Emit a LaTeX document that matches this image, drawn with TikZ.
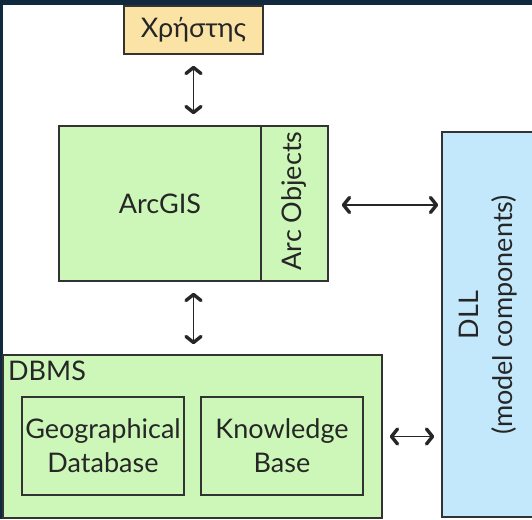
\documentclass[tikz,border=0pt]{standalone}
\usepackage{fontspec}
\setmainfont{Lato}
\usetikzlibrary{arrows.meta,calc}
\definecolor{frame}{HTML}{0F2A3F}
\definecolor{tan}{HTML}{FBE3A6}
\definecolor{lgreen}{HTML}{CDF7B9}
\definecolor{lblue}{HTML}{C3E8FB}
\definecolor{edge}{HTML}{333333}
\definecolor{ink}{HTML}{262626}
\tikzset{
  box/.style={draw=edge, line width=1.6pt, inner sep=0pt, align=center, text=ink, font=\fontsize{27}{34}\selectfont},
  tip/.tip={Straight Barb[length=6pt,width=15pt,line width=3.4pt,round]},
  arr/.style={draw=ink, line width=1.8pt, tip-tip},
  lbl/.style={inner sep=0pt, text=ink, font=\fontsize{27}{34}\selectfont}
}
\begin{document}
\begin{tikzpicture}[x=1pt,y=-1pt]
\useasboundingbox (0,0) rectangle (532,519);
\fill[frame] (0,0) rectangle (532,519);
\fill[white] (3,5) rectangle (532,519);
\clip (0,0) rectangle (532,519);
\node[box, fill=tan, minimum width=139pt, minimum height=48pt] (user) at (193.5,30) {Χρήστης};
\node[box, fill=lgreen, minimum width=202pt, minimum height=155pt] (arcgis) at (160,203.5) {ArcGIS};
\node[box, fill=lgreen, minimum width=67pt, minimum height=155pt] (ao) at (294.5,203.5) {};
\node[lbl, rotate=90] (aotext) at (294.5,201) {Arc Objects};
\node[box, fill=lblue, minimum width=98pt, minimum height=385pt] (dll) at (491,324.5) {};
\node[lbl, rotate=90, align=center] (dlltext) at (488,315) {DLL\\(model components)};
\node[box, fill=lgreen, minimum width=379pt, minimum height=163pt] (dbms) at (192.5,436.5) {};
\node[lbl, anchor=north west] (dbmslabel) at (8,361) {DBMS};
\node[box, fill=lgreen, minimum width=162pt, minimum height=98pt] (geo) at (103,446) {Geographical\\Database};
\node[box, fill=lgreen, minimum width=162pt, minimum height=98pt] (kb) at (282,446) {Knowledge\\Base};
\draw[arr, shorten <=11pt, shorten >=11pt] (user.south) -- (user.south |- arcgis.north);
\draw[arr, shorten <=11pt, shorten >=10pt] (user.south |- arcgis.south) -- (user.south |- dbms.north);
\draw[arr, shorten <=13pt, shorten >=3pt] ($(ao.east)+(0,1.5)$) -- ($(ao.east -| dll.west)+(0,1.5)$);
\draw[arr, shorten <=7pt, shorten >=7pt] (dbms.east) -- (dbms.east -| dll.west);
\end{tikzpicture}
\end{document}
